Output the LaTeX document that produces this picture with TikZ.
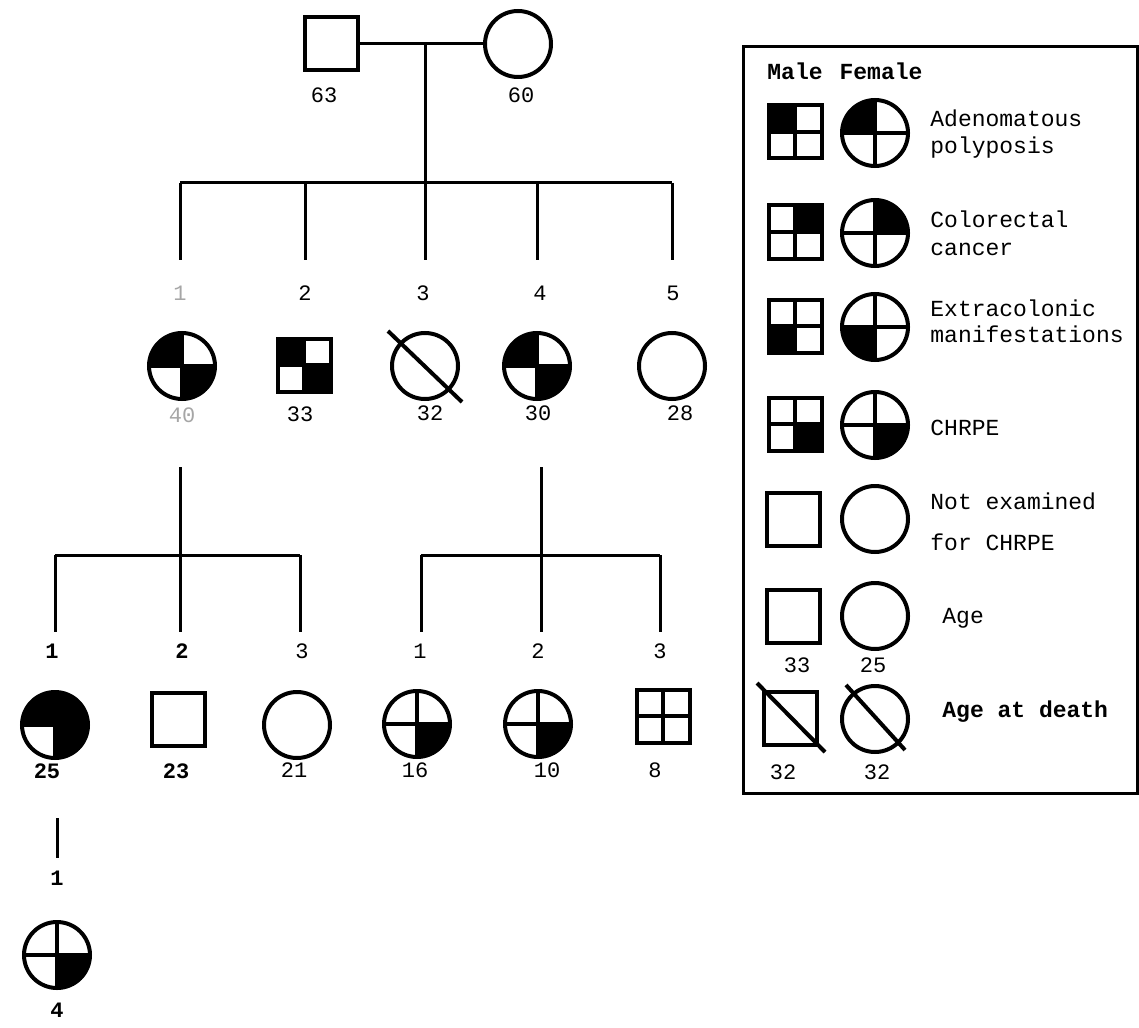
\documentclass[tikz,border=0pt]{standalone}
\usepackage{fontspec}
\setmainfont{Liberation Mono}
\usetikzlibrary{calc}
\newcommand\cq[2]{\fill (#1.center) -- ++(#2:16.5pt) arc[start angle=#2, delta angle=90, radius=16.5pt] -- cycle;}
\newcommand\sqf[3]{\fill (#1.center) rectangle ++(#2,#3);}
\newcommand\crs[1]{\draw[crossl] (#1.north) -- (#1.south) (#1.west) -- (#1.east);}
\begin{document}
\begin{tikzpicture}[x=0.5pt,y=-0.5pt,
  lw/.style={line width=1.5pt},
  fem/.style={circle,draw,line width=2pt,minimum size=33pt,inner sep=0pt,outer sep=0pt},
  mal/.style={rectangle,draw,line width=2pt,minimum size=26.5pt,inner sep=0pt,outer sep=0pt},
  num/.style={font=\fontsize{11}{12}\selectfont, inner sep=0pt},
  bnum/.style={font=\fontsize{11}{12}\selectfont\bfseries, inner sep=0pt},
  faint/.style={num, text=black!35},
  lab/.style={font=\fontsize{11.5}{13}\selectfont, anchor=west, inner sep=0pt},
  blab/.style={font=\fontsize{11.5}{13}\selectfont\bfseries, anchor=west, inner sep=0pt},
  crossl/.style={line width=2pt},
  slash/.style={line width=2pt},
]
\useasboundingbox (0,0) rectangle (1139,1027);

% ---------- Generation I ----------
\node[mal] (I1) at (331,44) {};
\node[fem] (I2) at (518,44) {};
\node[num] (I1a) at (324,95) {63};
\node[num] (I2a) at (521,95) {60};
\draw[lw] (I1) -- (I2);
\coordinate (m1) at (425,44);
\coordinate (s1) at (425,183);
\draw[lw] (m1) -- (s1);
\coordinate (sL) at (180,183);
\coordinate (sR) at (672,183);
\draw[lw] (sL) -- (sR);
\foreach \x/\n in {180/a,305/b,425/c,537/d,672/e}{
  \coordinate (t\n) at (\x,183);
  \coordinate (b\n) at (\x,260);
  \draw[lw] (t\n) -- (b\n);
}
\node[faint] (n1) at (180,293) {1};
\node[num] (n2) at (305,293) {2};
\node[num] (n3) at (423,293) {3};
\node[num] (n4) at (540,293) {4};
\node[num] (n5) at (673,293) {5};

% ---------- Generation II ----------
\node[fem] (II1) at (182,366) {};
\cq{II1}{90}\cq{II1}{270}\crs{II1}
\node[mal] (II2) at (304,365) {};
\sqf{II2}{-13.25pt}{13.25pt}\sqf{II2}{13.25pt}{-13.25pt}\crs{II2}
\node[fem] (II3) at (425,366) {};
\draw[slash] ($(II3.center)+(-37,-35)$) -- ($(II3.center)+(37,36)$);
\node[fem] (II4) at (537,366) {};
\cq{II4}{90}\cq{II4}{270}\crs{II4}
\node[fem] (II5) at (672,366) {};
\node[faint] (II1a) at (182,415) {40};
\node[num] (II2a) at (300,414) {33};
\node[num] (II3a) at (430,413) {32};
\node[num] (II4a) at (538,413) {30};
\node[num] (II5a) at (680,413) {28};

% ---------- Generation II -> III ----------
\coordinate (v1t) at (180,467);
\coordinate (v1b) at (180,555);
\draw[lw] (v1t) -- (v1b);
\coordinate (l1L) at (55,555);
\coordinate (l1R) at (300,555);
\draw[lw] (l1L) -- (l1R);
\coordinate (v2t) at (541,467);
\coordinate (v2b) at (541,555);
\draw[lw] (v2t) -- (v2b);
\coordinate (l2L) at (421,555);
\coordinate (l2R) at (660,555);
\draw[lw] (l2L) -- (l2R);
\foreach \x/\n in {55/a,180/b,300/c,421/d,541/e,660/f}{
  \coordinate (u\n) at (\x,555);
  \coordinate (d\n) at (\x,632);
  \draw[lw] (u\n) -- (d\n);
}
\node[bnum] (m1n) at (52,651) {1};
\node[bnum] (m2n) at (182,651) {2};
\node[num] (m3n) at (302,651) {3};
\node[num] (m4n) at (420,651) {1};
\node[num] (m5n) at (538,651) {2};
\node[num] (m6n) at (660,651) {3};

% ---------- Generation III ----------
\node[fem] (III1) at (55,725) {};
\cq{III1}{90}\cq{III1}{0}\cq{III1}{270}\crs{III1}
\node[mal] (III2) at (178,719) {};
\node[fem] (III3) at (297,725) {};
\node[fem] (III4) at (417,724) {};
\cq{III4}{270}\crs{III4}
\node[fem] (III5) at (538,724) {};
\cq{III5}{270}\crs{III5}
\node[mal] (III6) at (663,716) {};
\crs{III6}
\node[bnum] (III1a) at (47,771) {25};
\node[bnum] (III2a) at (176,771) {23};
\node[num] (III3a) at (294,770) {21};
\node[num] (III4a) at (415,770) {16};
\node[num] (III5a) at (547,770) {10};
\node[num] (III6a) at (655,770) {8};

% ---------- Generation IV ----------
\coordinate (w1) at (57,818);
\coordinate (w2) at (57,858);
\draw[lw] (w1) -- (w2);
\node[bnum] (o1n) at (57,878) {1};
\node[fem] (IV1) at (57,955) {};
\cq{IV1}{270}\crs{IV1}
\node[bnum] (IV1a) at (57,1010) {4};

% ---------- Legend ----------
\draw[line width=1.5pt] (743,47) rectangle (1137,793);
\node[blab, anchor=center] (hM) at (795,71) {Male};
\node[blab, anchor=center] (hF) at (881,71) {Female};

\node[mal] (L1m) at (795,132) {};
\sqf{L1m}{-13.25pt}{13.25pt}\crs{L1m}
\node[fem] (L1f) at (875,133) {};
\cq{L1f}{90}\crs{L1f}
\node[lab] (L1t) at (930,118) {Adenomatous};
\node[lab] (L1u) at (930,148) {polyposis};

\node[mal] (L2m) at (795,232) {};
\sqf{L2m}{13.25pt}{13.25pt}\crs{L2m}
\node[fem] (L2f) at (875,233) {};
\cq{L2f}{0}\crs{L2f}
\node[lab] (L2t) at (930,219) {Colorectal};
\node[lab] (L2u) at (930,249) {cancer};

\node[mal] (L3m) at (795,326) {};
\sqf{L3m}{-13.25pt}{-13.25pt}\crs{L3m}
\node[fem] (L3f) at (875,327) {};
\cq{L3f}{180}\crs{L3f}
\node[lab] (L3t) at (930,308) {Extracolonic};
\node[lab] (L3u) at (930,334) {manifestations};

\node[mal] (L4m) at (795,424) {};
\sqf{L4m}{13.25pt}{-13.25pt}\crs{L4m}
\node[fem] (L4f) at (875,425) {};
\cq{L4f}{270}\crs{L4f}
\node[lab] (L4t) at (930,428) {CHRPE};

\node[mal] (L5m) at (793,519) {};
\node[fem] (L5f) at (875,519) {};
\node[lab] (L5t) at (930,501) {Not examined};
\node[lab] (L5u) at (930,542) {for CHRPE};

\node[mal] (L6m) at (793,616) {};
\node[fem] (L6f) at (875,616) {};
\node[lab] (L6t) at (942,618) {Age};
\node[num] (L6a) at (797,665) {33};
\node[num] (L6b) at (873,665) {25};

\node[mal] (L7m) at (790,718) {};
\draw[slash] ($(L7m.center)+(-33,-35)$) -- ($(L7m.center)+(35,34)$);
\node[fem] (L7f) at (875,719) {};
\draw[slash] ($(L7f.center)+(-29,-34)$) -- ($(L7f.center)+(30,31)$);
\node[blab] (L7t) at (942,712) {Age at death};
\node[num] (L7a) at (783,772) {32};
\node[num] (L7b) at (877,772) {32};
\end{tikzpicture}
\end{document}
